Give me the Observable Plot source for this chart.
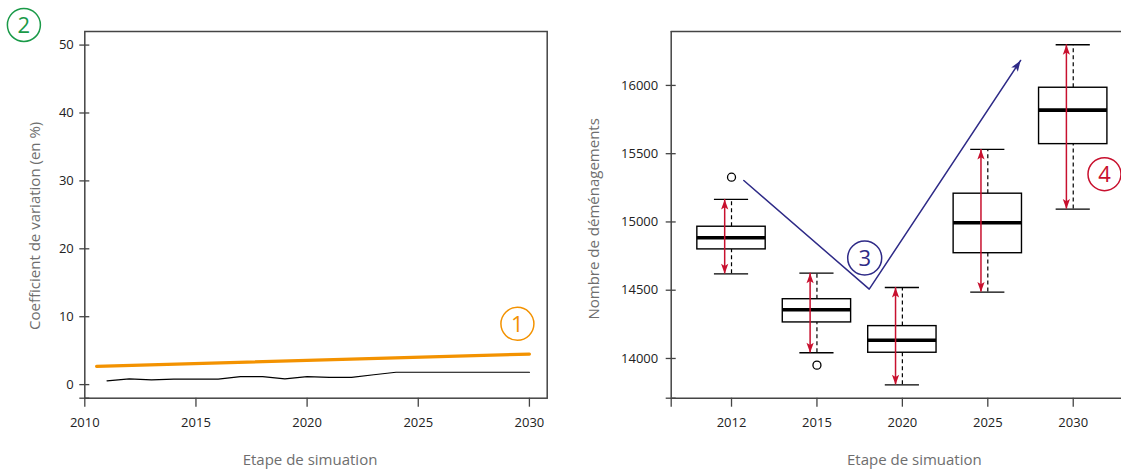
<!DOCTYPE html>
<html>
<head>
<meta charset="utf-8">
<script src="https://cdn.jsdelivr.net/npm/d3@7"></script>
<script src="https://cdn.jsdelivr.net/npm/@observablehq/plot@0.6"></script>
<style>
  html, body { margin: 0; padding: 0; background: white; }
  #wrap { position: relative; width: 1121px; height: 470px; overflow: hidden; background: white; }
  #wrap svg { position: absolute; top: 0; }
</style>
</head>
<body>
<div id="wrap"></div>
<script>
// ---------- Left panel data ----------
const cvYears  = [2011, 2012, 2013, 2014, 2015, 2016, 2017, 2018, 2019, 2020, 2021, 2022, 2023, 2024, 2025, 2026, 2027, 2028, 2029, 2030];
const cvValues = [0.56, 0.85, 0.71, 0.80, 0.80, 0.80, 1.19, 1.19, 0.85, 1.19, 1.08, 1.08, 1.45, 1.82, 1.82, 1.82, 1.82, 1.82, 1.82, 1.82];
const trendYears  = [2010.53, 2030];
const trendValues = [2.7, 4.5];
const leftXTicks = [2010, 2015, 2020, 2025, 2030];
const leftYTicks = [0, 10, 20, 30, 40, 50];

// ---------- Right panel data ----------
const boxYears    = ["2012", "2015", "2020", "2025", "2030"];
const whiskerLow  = [14620, 14042, 13807, 14486, 15094];
const q1          = [14799, 14264, 14042, 14771, 15570];
const median      = [14884, 14357, 14134, 14994, 15819];
const q3          = [14965, 14434, 14237, 15207, 15983];
const whiskerHigh = [15165, 14625, 14520, 15531, 16298];
const outlierBox   = [1, 2];
const outlierValue = [15328, 13951];
const rightYTicks = [14000, 14500, 15000, 15500, 16000];

// annotation paths (data coordinates)
const trendPathX = [1.144, 2.612, 4.384];
const trendPathY = [15304, 14508, 16183];

// ---------- styles ----------
const ORANGE = "#f39200", GREEN = "#1a9a48", BLUE = "#2e2a87", RED = "#c8102e";
const AXIS = "#444", LABEL = "#6e6e6e";
const FONT = "'Open Sans', sans-serif";

// custom arrowhead symbols (tip at origin)
function head(angleDeg) {
  const a = angleDeg * Math.PI / 180, c = Math.cos(a), s = Math.sin(a);
  const rot = (x, y) => [x * c - y * s, x * s + y * c];
  return {
    draw(ctx, size) {
      const r = Math.sqrt(size / Math.PI);
      const pts = [[0, 0], [-0.36 * r, r], [0, 0.78 * r], [0.36 * r, r]].map(([x, y]) => rot(x, y));
      ctx.moveTo(...pts[0]);
      for (let i = 1; i < pts.length; i++) ctx.lineTo(...pts[i]);
      ctx.closePath();
    }
  };
}
const headUp = head(0), headDown = head(180), headBlue = head(33.5);

// ---------- Left plot ----------
const cvData = cvYears.map((y, i) => ({year: y, cv: cvValues[i]}));
const trendData = trendYears.map((y, i) => ({year: y, cv: trendValues[i]}));
const leftXDom = [2010, 2030.8], leftYDom = [-2, 52];

const left = Plot.plot({
  width: 560, height: 470,
  marginLeft: 84.3, marginRight: 13.3, marginTop: 31, marginBottom: 72.3,
  x: {domain: leftXDom},
  y: {domain: leftYDom},
  style: {fontFamily: FONT, fontSize: "13px", color: "#222", background: "transparent", overflow: "visible"},
  marks: [
    Plot.axisY([leftYDom[0], ...leftYTicks], {tickSize: 10, dx: 5, tickPadding: 6, stroke: AXIS, strokeWidth: 1.3, label: null,
      tickFormat: d => d === leftYDom[0] ? "" : String(d)}),
    Plot.axisX(leftXTicks, {tickSize: 9, tickPadding: 11, stroke: AXIS, strokeWidth: 1.3, label: null, tickFormat: d => String(d)}),
    Plot.frame({stroke: AXIS, strokeWidth: 1.5}),
    Plot.line(cvData, {x: "year", y: "cv", stroke: "black", strokeWidth: 1.2}),
    Plot.line(trendData, {x: "year", y: "cv", stroke: ORANGE, strokeWidth: 3.2}),
    Plot.dot([{year: 2029.46, v: 8.95, t: "1"}], {x: "year", y: "v", r: 16.5, stroke: ORANGE, strokeWidth: 1.5, fill: "none"}),
    Plot.text([{year: 2029.46, v: 8.95, t: "1"}], {x: "year", y: "v", text: "t", fill: ORANGE, fontSize: 22, dy: 1}),
    Plot.dot([{year: 2007.26, v: 52.96, t: "2"}], {x: "year", y: "v", r: 16.5, stroke: GREEN, strokeWidth: 1.5, fill: "none"}),
    Plot.text([{year: 2007.26, v: 52.96, t: "2"}], {x: "year", y: "v", text: "t", fill: GREEN, fontSize: 22, dy: 1}),
    Plot.text(["Coefficient de variation (en %)"], {frameAnchor: "left", textAnchor: "middle", lineAnchor: "middle",
      dx: -49.3, dy: 11, rotate: -90, fill: LABEL, fontSize: 15}),
    Plot.text(["Etape de simuation"], {frameAnchor: "bottom", textAnchor: "middle", lineAnchor: "middle",
      dx: -6, dy: 62, fill: LABEL, fontSize: 15})
  ]
});
left.style.left = "0px";

// ---------- Right plot ----------
const boxes = boxYears.map((y, i) => ({
  pos: i + 1, year: y, lo: whiskerLow[i], q1: q1[i], med: median[i], q3: q3[i], hi: whiskerHigh[i]
}));
const outliers = outlierBox.map((b, i) => ({pos: b, v: outlierValue[i]}));
const pathData = trendPathX.map((x, i) => ({x, y: trendPathY[i]}));
const rightXDom = [0.294, 5.565], rightYDom = [13709, 16395];
const AOFF = 0.08; // red arrow offset from box centre

const right = Plot.plot({
  width: 561, height: 470,
  marginLeft: 110.7, marginRight: 0, marginTop: 31, marginBottom: 72.3,
  x: {domain: rightXDom},
  y: {domain: rightYDom},
  style: {fontFamily: FONT, fontSize: "13px", color: "#222", background: "transparent", overflow: "visible"},
  marks: [
    Plot.axisY([rightYDom[0], ...rightYTicks], {tickSize: 10, dx: 5, tickPadding: 8, stroke: AXIS, strokeWidth: 1.3, label: null,
      tickFormat: d => d === rightYDom[0] ? "" : String(d)}),
    Plot.axisX([rightXDom[0], 1, 2, 3, 4, 5], {tickSize: 9, tickPadding: 11, stroke: AXIS, strokeWidth: 1.3, label: null,
      tickFormat: d => Number.isInteger(d) ? boxYears[d - 1] : ""}),
    Plot.ruleX([rightXDom[0]], {stroke: AXIS, strokeWidth: 1.5}),
    Plot.ruleY(rightYDom, {stroke: AXIS, strokeWidth: 1.5}),
    // whiskers (dashed)
    Plot.ruleX(boxes, {x: "pos", y1: "q3", y2: "hi", stroke: "black", strokeWidth: 1.2, strokeDasharray: "4,3"}),
    Plot.ruleX(boxes, {x: "pos", y1: "lo", y2: "q1", stroke: "black", strokeWidth: 1.2, strokeDasharray: "4,3"}),
    // caps
    Plot.ruleY(boxes, {y: "hi", x1: d => d.pos - 0.2, x2: d => d.pos + 0.2, stroke: "black", strokeWidth: 1.3}),
    Plot.ruleY(boxes, {y: "lo", x1: d => d.pos - 0.2, x2: d => d.pos + 0.2, stroke: "black", strokeWidth: 1.3}),
    // boxes
    Plot.rect(boxes, {x1: d => d.pos - 0.4, x2: d => d.pos + 0.4, y1: "q1", y2: "q3", fill: "white", stroke: "black", strokeWidth: 1.4}),
    Plot.ruleY(boxes, {y: "med", x1: d => d.pos - 0.4, x2: d => d.pos + 0.4, stroke: "black", strokeWidth: 3.6}),
    // outliers
    Plot.dot(outliers, {x: "pos", y: "v", r: 4, stroke: "black", strokeWidth: 1.3, fill: "none"}),
    // red double arrows
    Plot.ruleX(boxes, {x: d => d.pos - AOFF, y1: "lo", y2: "hi", stroke: RED, strokeWidth: 1.5}),
    Plot.dot(boxes, {x: d => d.pos - AOFF, y: "hi", symbol: headUp, r: 10, fill: RED, stroke: "none"}),
    Plot.dot(boxes, {x: d => d.pos - AOFF, y: "lo", symbol: headDown, r: 10, fill: RED, stroke: "none"}),
    // blue annotation
    Plot.line(pathData, {x: "x", y: "y", stroke: BLUE, strokeWidth: 1.5}),
    Plot.dot(pathData.slice(-1), {x: "x", y: "y", symbol: headBlue, r: 11, fill: BLUE, stroke: "none"}),
    Plot.dot([{x: 2.559, y: 14736}], {x: "x", y: "y", r: 17, stroke: BLUE, strokeWidth: 1.5, fill: "white"}),
    Plot.text([{x: 2.559, y: 14736, t: "3"}], {x: "x", y: "y", text: "t", fill: BLUE, fontSize: 22, dy: 1}),
    Plot.dot([{x: 5.366, y: 15350}], {x: "x", y: "y", r: 16.5, stroke: RED, strokeWidth: 1.5, fill: "none"}),
    Plot.text([{x: 5.366, y: 15350, t: "4"}], {x: "x", y: "y", text: "t", fill: RED, fontSize: 22, dy: 1}),
    // axis titles
    Plot.text(["Nombre de déménagements"], {frameAnchor: "left", textAnchor: "middle", lineAnchor: "middle",
      dx: -76.7, dy: 4, rotate: -90, fill: LABEL, fontSize: 15}),
    Plot.text(["Etape de simuation"], {frameAnchor: "bottom", textAnchor: "middle", lineAnchor: "middle",
      dx: 18, dy: 62, fill: LABEL, fontSize: 15})
  ]
});
right.style.left = "560px";

const wrap = document.getElementById("wrap");
wrap.appendChild(left);
wrap.appendChild(right);
</script>
</body>
</html>
